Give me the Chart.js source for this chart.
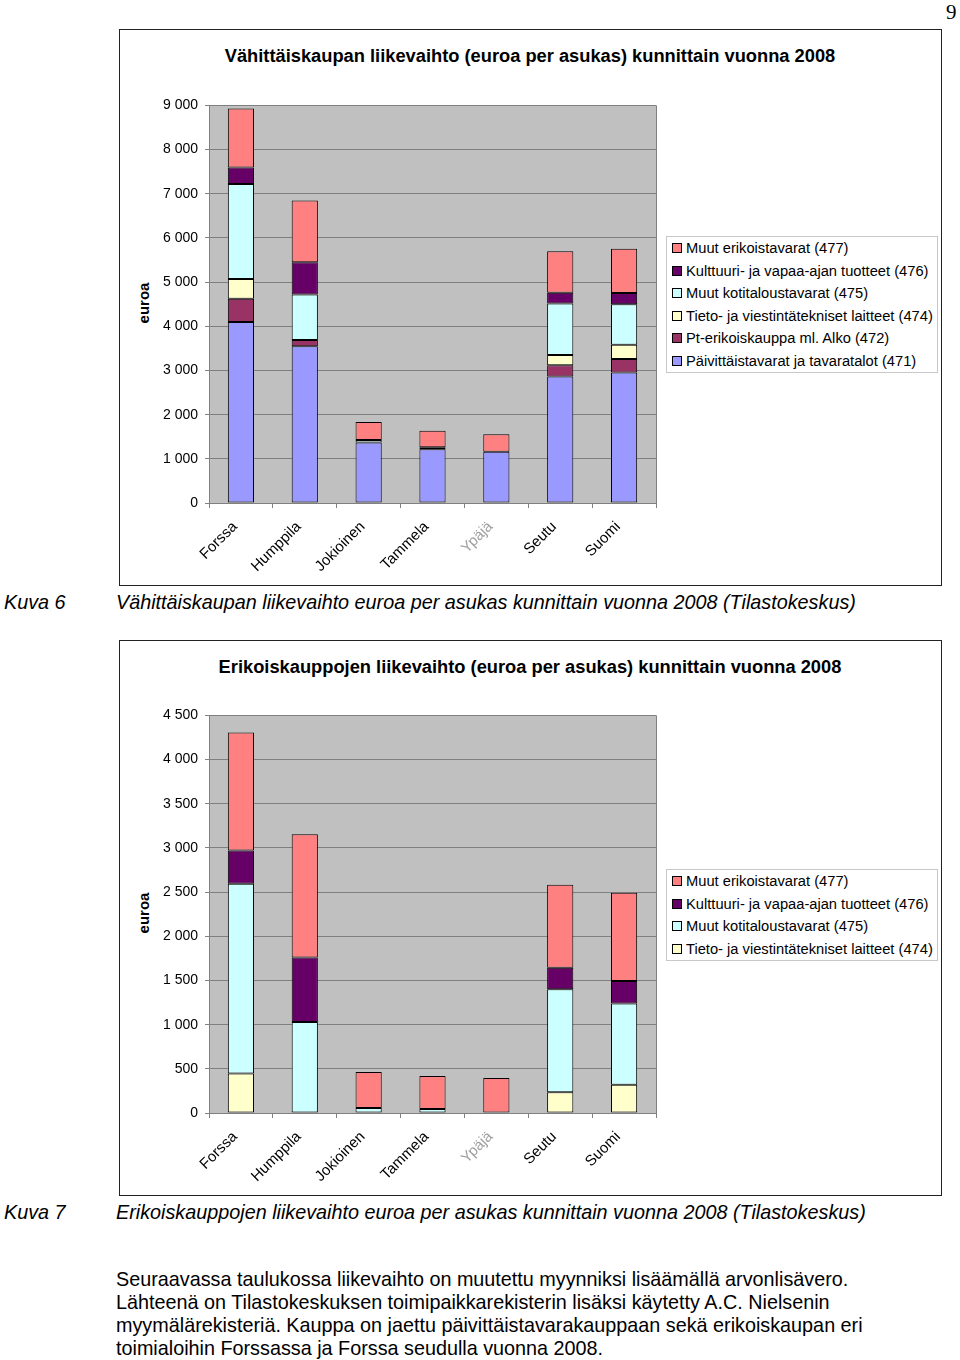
<!DOCTYPE html>
<html>
<head>
<meta charset="utf-8">
<script src="https://cdn.jsdelivr.net/npm/chart.js@4.4.1/dist/chart.umd.min.js"></script>
<style>
  body { margin: 0; background: #fff; font-family: "Liberation Sans", Arial, sans-serif; }
  .page { position: relative; width: 960px; height: 1360px; overflow: hidden; }
  .abs { position: absolute; }
  .frame { position: absolute; border: 1.2px solid #222; box-sizing: border-box; }
  .title { position: absolute; font-weight: bold; font-size: 18.3px; white-space: nowrap; transform: translateX(-50%); }
  .ytitle { position: absolute; font-size: 15px; font-weight: bold; transform: translate(-50%, -50%) rotate(-90deg); white-space: nowrap; }
  .legend { position: absolute; border: 1px solid #c8c8c8; background: #fff; box-sizing: border-box; padding: 0 0 0 5px; }
  .legend .item { height: 22.6px; line-height: 22.6px; font-size: 14.7px; white-space: nowrap; }
  .legend .sw { display: inline-block; width: 8px; height: 8px; border: 1px solid #000; margin-right: 4px; vertical-align: 0px; }
  .caption { position: absolute; font-style: italic; font-size: 19.8px; white-space: nowrap; }
  .para { position: absolute; left: 116px; top: 1268px; font-size: 19.8px; line-height: 23px; white-space: nowrap; }
  canvas { position: absolute; }
</style>
</head>
<body>
<div class="page">
  <div class="abs" style="left:946px; top:0px; font-family:'Liberation Serif', serif; font-size:21px;">9</div>

  <div class="frame" style="left:119px; top:29px; width:823px; height:557px;"></div>
  <div class="title" style="left:530px; top:45px;">Vähittäiskaupan liikevaihto (euroa per asukas) kunnittain vuonna 2008</div>
  <div class="ytitle" style="left:143px; top:303px;">euroa</div>
  <canvas id="chart1" width="560" height="490" style="left:119px; top:90px;"></canvas>
  <div class="legend" id="legend1" style="left:666px; top:236px; width:272px; height:137px;"></div>

  <div class="caption" style="left:4px; top:591px;">Kuva 6</div>
  <div class="caption" style="left:116px; top:591px;">Vähittäiskaupan liikevaihto euroa per asukas kunnittain vuonna 2008 (Tilastokeskus)</div>

  <div class="frame" style="left:119px; top:640px; width:823px; height:556px;"></div>
  <div class="title" style="left:530px; top:656px;">Erikoiskauppojen liikevaihto (euroa per asukas) kunnittain vuonna 2008</div>
  <div class="ytitle" style="left:143px; top:913px;">euroa</div>
  <canvas id="chart2" width="560" height="490" style="left:119px; top:700px;"></canvas>
  <div class="legend" id="legend2" style="left:666px; top:869px; width:272px; height:92px;"></div>

  <div class="caption" style="left:4px; top:1201px;">Kuva 7</div>
  <div class="caption" style="left:116px; top:1201px;">Erikoiskauppojen liikevaihto euroa per asukas kunnittain vuonna 2008 (Tilastokeskus)</div>

  <div class="para">Seuraavassa taulukossa liikevaihto on muutettu myynniksi lisäämällä arvonlisävero.<br>Lähteenä on Tilastokeskuksen toimipaikkarekisterin lisäksi käytetty A.C. Nielsenin<br>myymälärekisteriä. Kauppa on jaettu päivittäistavarakauppaan sekä erikoiskaupan eri<br>toimialoihin Forssassa ja Forssa seudulla vuonna 2008.</div>
</div>

<script>
// Categories and values (euro per inhabitant)
const categories = ['Forssa', 'Humppila', 'Jokioinen', 'Tammela', 'Ypäjä', 'Seutu', 'Suomi'];
const paivittais = [4096, 3547, 1370, 1215, 1160, 2861, 2952];   // 471
const ptErikois = [528, 143, 0, 0, 0, 256, 309];                 // 472
const tietoViestin = [447, 0, 0, 0, 0, 235, 320];                // 474
const muutKoti = [2149, 1030, 57, 45, 0, 1165, 918];             // 475
const kulttuuri = [376, 730, 0, 0, 0, 245, 256];                 // 476
const muutErikois = [1335, 1395, 407, 374, 397, 937, 999];       // 477

const ticks1 = { max: 9000, step: 1000 };
const ticks2 = { max: 4500, step: 500 };

const series = {
    s471: { label: 'Päivittäistavarat ja tavaratalot (471)', data: paivittais, color: '#9999ff' },
    s472: { label: 'Pt-erikoiskauppa ml. Alko (472)', data: ptErikois, color: '#993366' },
    s474: { label: 'Tieto- ja viestintätekniset laitteet (474)', data: tietoViestin, color: '#ffffcc' },
    s475: { label: 'Muut kotitaloustavarat (475)', data: muutKoti, color: '#ccffff' },
    s476: { label: 'Kulttuuri- ja vapaa-ajan tuotteet (476)', data: kulttuuri, color: '#660066' },
    s477: { label: 'Muut erikoistavarat (477)', data: muutErikois, color: '#ff8080' }
};

function fmt(v) {
    return String(v).replace(/\B(?=(\d{3})+(?!\d))/g, ' ');
}

// gray plot background and border like the old spreadsheet charts
const plotArea = {
    id: 'plotArea',
    beforeDraw(chart) {
        const a = chart.chartArea, ctx = chart.ctx;
        ctx.save();
        ctx.fillStyle = '#c0c0c0';
        ctx.fillRect(a.left, a.top, a.right - a.left, a.bottom - a.top);
        ctx.restore();
    },
    afterDraw(chart) {
        const a = chart.chartArea, ctx = chart.ctx;
        ctx.save();
        ctx.strokeStyle = '#808080';
        ctx.lineWidth = 1;
        ctx.beginPath();
        ctx.moveTo(Math.round(a.right) + 0.5, a.top);
        ctx.lineTo(Math.round(a.right) + 0.5, a.bottom);
        ctx.stroke();
        ctx.restore();
    }
};

function makeChart(canvasId, legendId, keys, yTicks) {
    const datasets = keys.map(k => ({
        label: series[k].label,
        data: series[k].data,
        backgroundColor: series[k].color,
        borderColor: '#000',
        borderWidth: 1,
        borderSkipped: false,
        barPercentage: 0.41,
        categoryPercentage: 1
    }));

    new Chart(document.getElementById(canvasId), {
        type: 'bar',
        data: { labels: categories, datasets: datasets },
        plugins: [plotArea],
        options: {
            responsive: false,
            animation: false,
            devicePixelRatio: 1,
            layout: { padding: { top: 12, right: 23, left: 0, bottom: 0 } },
            plugins: { legend: { display: false }, tooltip: { enabled: false } },
            scales: {
                x: {
                    stacked: true,
                    grid: { display: true, drawOnChartArea: false, drawTicks: true, tickLength: 5, color: '#808080', offset: true },
                    border: { color: '#808080' },
                    ticks: {
                        maxRotation: 45, minRotation: 45, padding: 10, labelOffset: -6,
                        font: { family: 'Liberation Sans', size: 15 },
                        color: ctx => ctx.index === 4 ? '#a0a0a0' : '#000'
                    },
                    afterFit: s => { s.height = 77; }
                },
                y: {
                    stacked: true,
                    min: 0, max: yTicks.max,
                    grid: { color: '#808080', tickLength: 4 },
                    border: { color: '#808080' },
                    ticks: {
                        stepSize: yTicks.step, padding: 7,
                        font: { family: 'Liberation Sans', size: 14 },
                        color: '#000',
                        callback: v => fmt(v)
                    },
                    afterFit: s => { s.width = 90; }
                }
            }
        }
    });

    // legend, listed top-down in reverse stack order
    const legend = document.getElementById(legendId);
    keys.slice().reverse().forEach(k => {
        const item = document.createElement('div');
        item.className = 'item';
        item.innerHTML = `<span class="sw" style="background:${series[k].color}"></span>${series[k].label}`;
        legend.appendChild(item);
    });
}

makeChart('chart1', 'legend1', ['s471', 's472', 's474', 's475', 's476', 's477'], ticks1);
makeChart('chart2', 'legend2', ['s474', 's475', 's476', 's477'], ticks2);
</script>
</body>
</html>
